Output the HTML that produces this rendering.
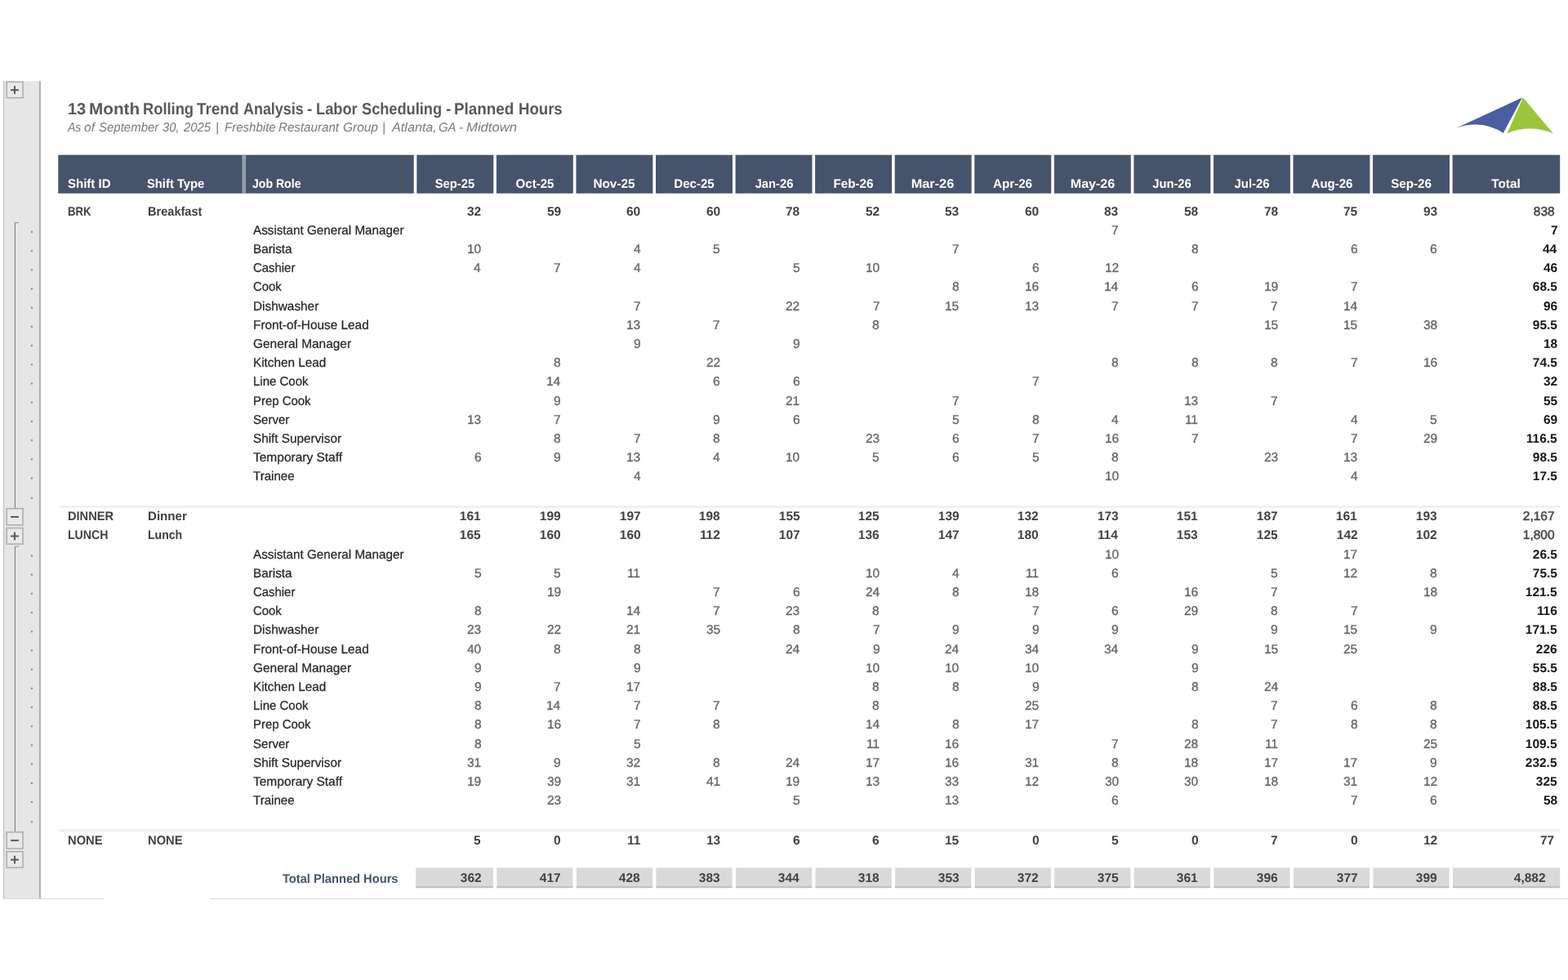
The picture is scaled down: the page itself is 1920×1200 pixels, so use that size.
<!DOCTYPE html>
<html lang="en">
<head>
<meta charset="utf-8">
<title>13 Month Rolling Trend Analysis - Labor Scheduling - Planned Hours</title>
<style>
*{box-sizing:border-box}
html,body{margin:0;padding:0;background:#fff}
body{width:1920px;height:1200px;position:relative;overflow:hidden;font-family:"Liberation Sans",Arial,sans-serif;font-size:15.4px;line-height:20px;color:#404040;text-rendering:geometricPrecision}
.sheet span,.sheet div{position:absolute}
.title,.sub{left:0;height:20px;width:760px;white-space:nowrap}
.sheet{position:absolute;left:0;top:0;width:1920px;height:1200px}
span{white-space:nowrap;display:block;height:20px}
.l{transform-origin:0 50%}
.r{transform-origin:100% 50%;text-align:right}
.c{transform-origin:50% 50%;text-align:center}
.b{font-weight:700}
.title{font-size:20px;font-weight:700;color:#595959}
.sub{font-size:15.6px;font-style:italic;color:#7a7a7a}
.hl{color:#fff;font-weight:700}
.g{color:#404040;font-weight:700}
.gt{color:#474747;-webkit-text-stroke:.5px #474747}
.role{color:#262626;-webkit-text-stroke:.25px #262626}
.n{color:#636363;-webkit-text-stroke:.3px #636363}
.dt{color:#141414;font-weight:700}
.tl{color:#44546a;font-weight:700}
.tn{color:#404040;font-weight:700}
.shapes{position:absolute;left:0;top:0}
</style>
</head>
<body>

<svg class="shapes" width="1920" height="1200" viewBox="0 0 1920 1200" aria-hidden="true">
<g id="outline-gutter">
<rect x="4.1" y="99.4" width="45.7" height="1001.5" fill="#e6e6e6"/>
<rect x="4.1" y="99.4" width="1" height="1001.5" fill="#b7b7b7"/>
<rect x="47.9" y="99.4" width="1.9" height="1001.5" fill="#adadad"/>
<rect x="4.1" y="1100" width="123.5" height="1" fill="#d9d9d9"/>
<rect x="257.5" y="1100" width="1662.5" height="1" fill="#d9d9d9"/>
<rect x="8.15" y="100.35" width="19.85" height="19.4" fill="#e9e9e9" stroke="#b0b0b0" stroke-width="1.6"/>
<rect x="13.07" y="109.2" width="9.8" height="2" fill="#595959"/>
<rect x="16.97" y="105.3" width="2" height="9.8" fill="#595959"/>
<rect x="8.15" y="622.75" width="19.85" height="20.1" fill="#e9e9e9" stroke="#b0b0b0" stroke-width="1.6"/>
<rect x="13.07" y="631.95" width="9.8" height="2" fill="#595959"/>
<rect x="8.15" y="646.55" width="19.85" height="19.6" fill="#e9e9e9" stroke="#b0b0b0" stroke-width="1.6"/>
<rect x="13.07" y="655.5" width="9.8" height="2" fill="#595959"/>
<rect x="16.97" y="651.6" width="2" height="9.8" fill="#595959"/>
<rect x="8.15" y="1018.95" width="19.85" height="20.1" fill="#e9e9e9" stroke="#b0b0b0" stroke-width="1.6"/>
<rect x="13.07" y="1028.15" width="9.8" height="2" fill="#595959"/>
<rect x="8.15" y="1042.75" width="19.85" height="19.6" fill="#e9e9e9" stroke="#b0b0b0" stroke-width="1.6"/>
<rect x="13.07" y="1051.7" width="9.8" height="2" fill="#595959"/>
<rect x="16.97" y="1047.8" width="2" height="9.8" fill="#595959"/>
<rect x="17.85" y="272.7" width="1.1" height="349.4" fill="#7f7f7f"/>
<rect x="17.85" y="272.2" width="5.45" height="1.1" fill="#949494"/>
<rect x="17.85" y="669.1" width="1.1" height="349.2" fill="#7f7f7f"/>
<rect x="17.85" y="668.6" width="5.45" height="1.1" fill="#949494"/>
<rect x="37.9" y="282.9" width="2.1" height="2.2" fill="#8e8e8e"/>
<rect x="37.9" y="306.1" width="2.1" height="2.2" fill="#8e8e8e"/>
<rect x="37.9" y="329.3" width="2.1" height="2.2" fill="#8e8e8e"/>
<rect x="37.9" y="352.5" width="2.1" height="2.2" fill="#8e8e8e"/>
<rect x="37.9" y="375.7" width="2.1" height="2.2" fill="#8e8e8e"/>
<rect x="37.9" y="398.9" width="2.1" height="2.2" fill="#8e8e8e"/>
<rect x="37.9" y="422.1" width="2.1" height="2.2" fill="#8e8e8e"/>
<rect x="37.9" y="445.3" width="2.1" height="2.2" fill="#8e8e8e"/>
<rect x="37.9" y="468.5" width="2.1" height="2.2" fill="#8e8e8e"/>
<rect x="37.9" y="491.7" width="2.1" height="2.2" fill="#8e8e8e"/>
<rect x="37.9" y="514.9" width="2.1" height="2.2" fill="#8e8e8e"/>
<rect x="37.9" y="538.1" width="2.1" height="2.2" fill="#8e8e8e"/>
<rect x="37.9" y="561.3" width="2.1" height="2.2" fill="#8e8e8e"/>
<rect x="37.9" y="584.5" width="2.1" height="2.2" fill="#8e8e8e"/>
<rect x="37.9" y="608.7" width="2.1" height="2.2" fill="#8e8e8e"/>
<rect x="37.9" y="679.4" width="2.1" height="2.2" fill="#8e8e8e"/>
<rect x="37.9" y="702.6" width="2.1" height="2.2" fill="#8e8e8e"/>
<rect x="37.9" y="725.8" width="2.1" height="2.2" fill="#8e8e8e"/>
<rect x="37.9" y="749" width="2.1" height="2.2" fill="#8e8e8e"/>
<rect x="37.9" y="772.2" width="2.1" height="2.2" fill="#8e8e8e"/>
<rect x="37.9" y="795.4" width="2.1" height="2.2" fill="#8e8e8e"/>
<rect x="37.9" y="818.6" width="2.1" height="2.2" fill="#8e8e8e"/>
<rect x="37.9" y="841.8" width="2.1" height="2.2" fill="#8e8e8e"/>
<rect x="37.9" y="865" width="2.1" height="2.2" fill="#8e8e8e"/>
<rect x="37.9" y="888.2" width="2.1" height="2.2" fill="#8e8e8e"/>
<rect x="37.9" y="911.4" width="2.1" height="2.2" fill="#8e8e8e"/>
<rect x="37.9" y="934.6" width="2.1" height="2.2" fill="#8e8e8e"/>
<rect x="37.9" y="957.8" width="2.1" height="2.2" fill="#8e8e8e"/>
<rect x="37.9" y="981" width="2.1" height="2.2" fill="#8e8e8e"/>
<rect x="37.9" y="1005.2" width="2.1" height="2.2" fill="#8e8e8e"/>
</g>
<g id="header-band">
<rect x="71.25" y="189.7" width="1838.95" height="47.1" fill="#46546b"/>
<rect x="296.6" y="189.7" width="4.3" height="47.1" fill="#a5acb9"/>
<rect x="298" y="189.7" width="1.5" height="47.1" fill="#8790a2"/>
<rect x="506.7" y="189.5" width="3.6" height="47.5" fill="#fff"/>
<rect x="604.26" y="189.5" width="3.6" height="47.5" fill="#fff"/>
<rect x="701.82" y="189.5" width="3.6" height="47.5" fill="#fff"/>
<rect x="799.38" y="189.5" width="3.6" height="47.5" fill="#fff"/>
<rect x="896.94" y="189.5" width="3.6" height="47.5" fill="#fff"/>
<rect x="994.5" y="189.5" width="3.6" height="47.5" fill="#fff"/>
<rect x="1092.06" y="189.5" width="3.6" height="47.5" fill="#fff"/>
<rect x="1189.62" y="189.5" width="3.6" height="47.5" fill="#fff"/>
<rect x="1287.18" y="189.5" width="3.6" height="47.5" fill="#fff"/>
<rect x="1384.74" y="189.5" width="3.6" height="47.5" fill="#fff"/>
<rect x="1482.3" y="189.5" width="3.6" height="47.5" fill="#fff"/>
<rect x="1579.86" y="189.5" width="3.6" height="47.5" fill="#fff"/>
<rect x="1677.42" y="189.5" width="3.6" height="47.5" fill="#fff"/>
<rect x="1774.98" y="189.5" width="3.6" height="47.5" fill="#fff"/>
</g>
<rect x="72.4" y="619" width="1837.8" height="3.2" fill="#f1f1f1"/>
<rect x="72.4" y="1015.3" width="1837.8" height="3.4" fill="#f1f1f1"/>
<g id="totals-band">
<rect x="509.2" y="1062.5" width="94.66" height="24.7" fill="#d9d9d9"/>
<rect x="509.2" y="1085.3" width="94.66" height="1.9" fill="#bcbcbc"/>
<rect x="608.26" y="1062.5" width="93.16" height="24.7" fill="#d9d9d9"/>
<rect x="608.26" y="1085.3" width="93.16" height="1.9" fill="#bcbcbc"/>
<rect x="705.82" y="1062.5" width="93.16" height="24.7" fill="#d9d9d9"/>
<rect x="705.82" y="1085.3" width="93.16" height="1.9" fill="#bcbcbc"/>
<rect x="803.38" y="1062.5" width="93.16" height="24.7" fill="#d9d9d9"/>
<rect x="803.38" y="1085.3" width="93.16" height="1.9" fill="#bcbcbc"/>
<rect x="900.94" y="1062.5" width="93.16" height="24.7" fill="#d9d9d9"/>
<rect x="900.94" y="1085.3" width="93.16" height="1.9" fill="#bcbcbc"/>
<rect x="998.5" y="1062.5" width="93.16" height="24.7" fill="#d9d9d9"/>
<rect x="998.5" y="1085.3" width="93.16" height="1.9" fill="#bcbcbc"/>
<rect x="1096.06" y="1062.5" width="93.16" height="24.7" fill="#d9d9d9"/>
<rect x="1096.06" y="1085.3" width="93.16" height="1.9" fill="#bcbcbc"/>
<rect x="1193.62" y="1062.5" width="93.16" height="24.7" fill="#d9d9d9"/>
<rect x="1193.62" y="1085.3" width="93.16" height="1.9" fill="#bcbcbc"/>
<rect x="1291.18" y="1062.5" width="93.16" height="24.7" fill="#d9d9d9"/>
<rect x="1291.18" y="1085.3" width="93.16" height="1.9" fill="#bcbcbc"/>
<rect x="1388.74" y="1062.5" width="93.16" height="24.7" fill="#d9d9d9"/>
<rect x="1388.74" y="1085.3" width="93.16" height="1.9" fill="#bcbcbc"/>
<rect x="1486.3" y="1062.5" width="93.16" height="24.7" fill="#d9d9d9"/>
<rect x="1486.3" y="1085.3" width="93.16" height="1.9" fill="#bcbcbc"/>
<rect x="1583.86" y="1062.5" width="93.16" height="24.7" fill="#d9d9d9"/>
<rect x="1583.86" y="1085.3" width="93.16" height="1.9" fill="#bcbcbc"/>
<rect x="1681.42" y="1062.5" width="93.16" height="24.7" fill="#d9d9d9"/>
<rect x="1681.42" y="1085.3" width="93.16" height="1.9" fill="#bcbcbc"/>
<rect x="1778.98" y="1062.5" width="131.22" height="24.7" fill="#d9d9d9"/>
<rect x="1778.98" y="1085.3" width="131.22" height="1.9" fill="#bcbcbc"/>
</g>
</svg>
<div class="sheet">
<div class="title" style="top:124px;"><span class="l" style="left:82.64px;transform:scaleX(0.9969)">13</span> <span class="l" style="left:108.92px;transform:scaleX(1.0350)">Month</span> <span class="l" style="left:175.47px;transform:scaleX(0.9157)">Rolling</span> <span class="l" style="left:241.49px;transform:scaleX(0.9450)">Trend</span> <span class="l" style="left:297.85px;transform:scaleX(0.8956)">Analysis</span> <span class="l" style="left:376.47px;transform:scaleX(0.9424)">-</span> <span class="l" style="left:387.08px;transform:scaleX(0.9125)">Labor</span> <span class="l" style="left:443.18px;transform:scaleX(0.9096)">Scheduling</span> <span class="l" style="left:546.07px;transform:scaleX(0.9424)">-</span> <span class="l" style="left:556.24px;transform:scaleX(0.9423)">Planned</span> <span class="l" style="left:634.56px;transform:scaleX(0.9294)">Hours</span></div>
<div class="sub" style="top:147px;"><span class="l" style="left:83.09px;transform:scaleX(0.9006)">As</span> <span class="l" style="left:103.19px;transform:scaleX(0.9965)">of</span> <span class="l" style="left:120.88px;transform:scaleX(0.9608)">September</span> <span class="l" style="left:199.35px;transform:scaleX(0.9535)">30,</span> <span class="l" style="left:225.09px;transform:scaleX(0.9560)">2025</span> <span class="l" style="left:264.05px;transform:scaleX(0.9777)">|</span> <span class="l" style="left:274.54px;transform:scaleX(0.9645)">Freshbite</span> <span class="l" style="left:341.23px;transform:scaleX(0.9703)">Restaurant</span> <span class="l" style="left:420.04px;transform:scaleX(0.9909)">Group</span> <span class="l" style="left:468.25px;transform:scaleX(0.9777)">|</span> <span class="l" style="left:479.5px;transform:scaleX(1.0375)">Atlanta,</span> <span class="l" style="left:536.76px;transform:scaleX(0.9555)">GA</span> <span class="l" style="left:561.84px;transform:scaleX(0.9777)">-</span> <span class="l" style="left:571.19px;transform:scaleX(1.0685)">Midtown</span></div>
<svg class="abs" style="position:absolute;left:1776px;top:112px" width="136" height="60" viewBox="1776 112 136 60" aria-label="logo">
<path d="M1782.8 156.9 L1864.0 119.5 L1840.7 162.9 Q1826 153.2 1808 152.6 Q1795 152.3 1782.8 156.9 Z" fill="#4a5d9f"/>
<path d="M1864.9 119.6 L1902 163.5 Q1873 151.6 1845.4 163.4 Z" fill="#9cc53b"/>
</svg>
<span class="hl l" style="top:216px;left:82.57px;transform:scaleX(0.9753);">Shift ID</span>
<span class="hl l" style="top:216px;left:180.27px;transform:scaleX(0.9596);">Shift Type</span>
<span class="hl l" style="top:216px;left:309.39px;transform:scaleX(0.9149);">Job Role</span>
<span class="hl c" style="top:216px;left:407.27px;width:300px;transform:scaleX(0.9611);">Sep-25</span>
<span class="hl c" style="top:216px;left:504.74px;width:300px;transform:scaleX(0.9793);">Oct-25</span>
<span class="hl c" style="top:216px;left:602.1px;width:300px;transform:scaleX(0.9961);">Nov-25</span>
<span class="hl c" style="top:216px;left:699.67px;width:300px;transform:scaleX(0.9786);">Dec-25</span>
<span class="hl c" style="top:216px;left:797.67px;width:300px;transform:scaleX(0.9582);">Jan-26</span>
<span class="hl c" style="top:216px;left:894.85px;width:300px;transform:scaleX(0.9886);">Feb-26</span>
<span class="hl c" style="top:216px;left:992.39px;width:300px;transform:scaleX(1.0571);">Mar-26</span>
<span class="hl c" style="top:216px;left:1090.29px;width:300px;transform:scaleX(0.9866);">Apr-26</span>
<span class="hl c" style="top:216px;left:1187.51px;width:300px;transform:scaleX(1.0429);">May-26</span>
<span class="hl c" style="top:216px;left:1285.47px;width:300px;transform:scaleX(0.9560);">Jun-26</span>
<span class="hl c" style="top:216px;left:1383.04px;width:300px;transform:scaleX(0.9607);">Jul-26</span>
<span class="hl c" style="top:216px;left:1480.52px;width:300px;transform:scaleX(0.9756);">Aug-26</span>
<span class="hl c" style="top:216px;left:1578.06px;width:300px;transform:scaleX(0.9838);">Sep-26</span>
<span class="hl c" style="top:216px;left:1693.95px;width:300px;transform:scaleX(0.9977);">Total</span>
<span class="g l" style="top:250px;left:82.92px;transform:scaleX(0.8543);">BRK</span>
<span class="g l" style="top:250px;left:180.62px;transform:scaleX(0.9467);">Breakfast</span>
<span class="g r" style="top:250px;right:1330.82px;transform:scaleX(1.0050);">32</span>
<span class="g r" style="top:250px;right:1233.31px;transform:scaleX(1.0050);">59</span>
<span class="g r" style="top:250px;right:1135.69px;transform:scaleX(1.0050);">60</span>
<span class="g r" style="top:250px;right:1038.13px;transform:scaleX(1.0050);">60</span>
<span class="g r" style="top:250px;right:940.72px;transform:scaleX(1.0050);">78</span>
<span class="g r" style="top:250px;right:843.02px;transform:scaleX(1.0050);">52</span>
<span class="g r" style="top:250px;right:745.52px;transform:scaleX(1.0050);">53</span>
<span class="g r" style="top:250px;right:647.89px;transform:scaleX(1.0050);">60</span>
<span class="g r" style="top:250px;right:550.4px;transform:scaleX(1.0050);">83</span>
<span class="g r" style="top:250px;right:452.92px;transform:scaleX(1.0050);">58</span>
<span class="g r" style="top:250px;right:355.36px;transform:scaleX(1.0050);">78</span>
<span class="g r" style="top:250px;right:257.85px;transform:scaleX(1.0050);">75</span>
<span class="g r" style="top:250px;right:160.16px;transform:scaleX(1.0050);">93</span>
<span class="gt r" style="top:250px;right:16.43px;transform:scaleX(1.0050);">838</span>
<span class="role l" style="top:273px;left:310.27px;transform:scaleX(0.9892);">Assistant General Manager</span>
<span class="n r" style="top:273px;right:550.18px;transform:scaleX(1.0050);">7</span>
<span class="dt r" style="top:273px;right:12.92px;transform:scaleX(1.0050);">7</span>
<span class="role l" style="top:296px;left:309.75px;transform:scaleX(0.9922);">Barista</span>
<span class="n r" style="top:296px;right:1330.84px;transform:scaleX(1.0050);">10</span>
<span class="n r" style="top:296px;right:1135.87px;transform:scaleX(1.0050);">4</span>
<span class="n r" style="top:296px;right:1038.11px;transform:scaleX(1.0050);">5</span>
<span class="n r" style="top:296px;right:745.3px;transform:scaleX(1.0050);">7</span>
<span class="n r" style="top:296px;right:452.73px;transform:scaleX(1.0050);">8</span>
<span class="n r" style="top:296px;right:257.6px;transform:scaleX(1.0050);">6</span>
<span class="n r" style="top:296px;right:160.04px;transform:scaleX(1.0050);">6</span>
<span class="dt r" style="top:296px;right:13.52px;transform:scaleX(1.0050);">44</span>
<span class="role l" style="top:319px;left:309.84px;transform:scaleX(0.9687);">Cashier</span>
<span class="n r" style="top:319px;right:1330.99px;transform:scaleX(1.0050);">4</span>
<span class="n r" style="top:319px;right:1233.1px;transform:scaleX(1.0050);">7</span>
<span class="n r" style="top:319px;right:1135.87px;transform:scaleX(1.0050);">4</span>
<span class="n r" style="top:319px;right:940.55px;transform:scaleX(1.0050);">5</span>
<span class="n r" style="top:319px;right:843.04px;transform:scaleX(1.0050);">10</span>
<span class="n r" style="top:319px;right:647.84px;transform:scaleX(1.0050);">6</span>
<span class="n r" style="top:319px;right:550.18px;transform:scaleX(1.0050);">12</span>
<span class="dt r" style="top:319px;right:13.04px;transform:scaleX(1.0050);">46</span>
<span class="role l" style="top:342px;left:309.84px;transform:scaleX(0.9661);">Cook</span>
<span class="n r" style="top:342px;right:745.41px;transform:scaleX(1.0050);">8</span>
<span class="n r" style="top:342px;right:647.84px;transform:scaleX(1.0050);">16</span>
<span class="n r" style="top:342px;right:550.51px;transform:scaleX(1.0050);">14</span>
<span class="n r" style="top:342px;right:452.72px;transform:scaleX(1.0050);">6</span>
<span class="n r" style="top:342px;right:355.11px;transform:scaleX(1.0050);">19</span>
<span class="n r" style="top:342px;right:257.5px;transform:scaleX(1.0050);">7</span>
<span class="dt r" style="top:342px;right:13.17px;transform:scaleX(1.0050);">68.5</span>
<span class="role l" style="top:366px;left:309.74px;transform:scaleX(0.9983);">Dishwasher</span>
<span class="n r" style="top:366px;right:1135.54px;transform:scaleX(1.0050);">7</span>
<span class="n r" style="top:366px;right:940.42px;transform:scaleX(1.0050);">22</span>
<span class="n r" style="top:366px;right:842.86px;transform:scaleX(1.0050);">7</span>
<span class="n r" style="top:366px;right:745.43px;transform:scaleX(1.0050);">15</span>
<span class="n r" style="top:366px;right:647.84px;transform:scaleX(1.0050);">13</span>
<span class="n r" style="top:366px;right:550.18px;transform:scaleX(1.0050);">7</span>
<span class="n r" style="top:366px;right:452.62px;transform:scaleX(1.0050);">7</span>
<span class="n r" style="top:366px;right:355.06px;transform:scaleX(1.0050);">7</span>
<span class="n r" style="top:366px;right:257.83px;transform:scaleX(1.0050);">14</span>
<span class="dt r" style="top:366px;right:13.04px;transform:scaleX(1.0050);">96</span>
<span class="role l" style="top:389px;left:309.74px;transform:scaleX(0.9976);">Front-of-House Lead</span>
<span class="n r" style="top:389px;right:1135.64px;transform:scaleX(1.0050);">13</span>
<span class="n r" style="top:389px;right:1037.98px;transform:scaleX(1.0050);">7</span>
<span class="n r" style="top:389px;right:842.97px;transform:scaleX(1.0050);">8</span>
<span class="n r" style="top:389px;right:355.19px;transform:scaleX(1.0050);">15</span>
<span class="n r" style="top:389px;right:257.63px;transform:scaleX(1.0050);">15</span>
<span class="n r" style="top:389px;right:160.05px;transform:scaleX(1.0050);">38</span>
<span class="dt r" style="top:389px;right:13.17px;transform:scaleX(1.0050);">95.5</span>
<span class="role l" style="top:412px;left:309.82px;transform:scaleX(1.0024);">General Manager</span>
<span class="n r" style="top:412px;right:1135.59px;transform:scaleX(1.0050);">9</span>
<span class="n r" style="top:412px;right:940.47px;transform:scaleX(1.0050);">9</span>
<span class="dt r" style="top:412px;right:13.12px;transform:scaleX(1.0050);">18</span>
<span class="role l" style="top:435px;left:309.74px;transform:scaleX(0.9938);">Kitchen Lead</span>
<span class="n r" style="top:435px;right:1233.21px;transform:scaleX(1.0050);">8</span>
<span class="n r" style="top:435px;right:1037.98px;transform:scaleX(1.0050);">22</span>
<span class="n r" style="top:435px;right:550.29px;transform:scaleX(1.0050);">8</span>
<span class="n r" style="top:435px;right:452.73px;transform:scaleX(1.0050);">8</span>
<span class="n r" style="top:435px;right:355.17px;transform:scaleX(1.0050);">8</span>
<span class="n r" style="top:435px;right:257.5px;transform:scaleX(1.0050);">7</span>
<span class="n r" style="top:435px;right:160.04px;transform:scaleX(1.0050);">16</span>
<span class="dt r" style="top:435px;right:13.17px;transform:scaleX(1.0050);">74.5</span>
<span class="role l" style="top:458px;left:309.77px;transform:scaleX(0.9735);">Line Cook</span>
<span class="n r" style="top:458px;right:1233.43px;transform:scaleX(1.0050);">14</span>
<span class="n r" style="top:458px;right:1038.08px;transform:scaleX(1.0050);">6</span>
<span class="n r" style="top:458px;right:940.52px;transform:scaleX(1.0050);">6</span>
<span class="n r" style="top:458px;right:647.74px;transform:scaleX(1.0050);">7</span>
<span class="dt r" style="top:458px;right:12.98px;transform:scaleX(1.0050);">32</span>
<span class="role l" style="top:482px;left:309.77px;transform:scaleX(0.9704);">Prep Cook</span>
<span class="n r" style="top:482px;right:1233.15px;transform:scaleX(1.0050);">9</span>
<span class="n r" style="top:482px;right:940.44px;transform:scaleX(1.0050);">21</span>
<span class="n r" style="top:482px;right:745.3px;transform:scaleX(1.0050);">7</span>
<span class="n r" style="top:482px;right:452.72px;transform:scaleX(1.0050);">13</span>
<span class="n r" style="top:482px;right:355.06px;transform:scaleX(1.0050);">7</span>
<span class="dt r" style="top:482px;right:13.17px;transform:scaleX(1.0050);">55</span>
<span class="role l" style="top:505px;left:309.92px;transform:scaleX(0.9774);">Server</span>
<span class="n r" style="top:505px;right:1330.76px;transform:scaleX(1.0050);">13</span>
<span class="n r" style="top:505px;right:1233.1px;transform:scaleX(1.0050);">7</span>
<span class="n r" style="top:505px;right:1038.03px;transform:scaleX(1.0050);">9</span>
<span class="n r" style="top:505px;right:940.52px;transform:scaleX(1.0050);">6</span>
<span class="n r" style="top:505px;right:745.43px;transform:scaleX(1.0050);">5</span>
<span class="n r" style="top:505px;right:647.85px;transform:scaleX(1.0050);">8</span>
<span class="n r" style="top:505px;right:550.51px;transform:scaleX(1.0050);">4</span>
<span class="n r" style="top:505px;right:452.64px;transform:scaleX(1.0050);">11</span>
<span class="n r" style="top:505px;right:257.83px;transform:scaleX(1.0050);">4</span>
<span class="n r" style="top:505px;right:160.07px;transform:scaleX(1.0050);">5</span>
<span class="dt r" style="top:505px;right:13.03px;transform:scaleX(1.0050);">69</span>
<span class="role l" style="top:528px;left:309.9px;transform:scaleX(0.9940);">Shift Supervisor</span>
<span class="n r" style="top:528px;right:1233.21px;transform:scaleX(1.0050);">8</span>
<span class="n r" style="top:528px;right:1135.54px;transform:scaleX(1.0050);">7</span>
<span class="n r" style="top:528px;right:1038.09px;transform:scaleX(1.0050);">8</span>
<span class="n r" style="top:528px;right:842.96px;transform:scaleX(1.0050);">23</span>
<span class="n r" style="top:528px;right:745.4px;transform:scaleX(1.0050);">6</span>
<span class="n r" style="top:528px;right:647.74px;transform:scaleX(1.0050);">7</span>
<span class="n r" style="top:528px;right:550.28px;transform:scaleX(1.0050);">16</span>
<span class="n r" style="top:528px;right:452.62px;transform:scaleX(1.0050);">7</span>
<span class="n r" style="top:528px;right:257.5px;transform:scaleX(1.0050);">7</span>
<span class="n r" style="top:528px;right:159.99px;transform:scaleX(1.0050);">29</span>
<span class="dt r" style="top:528px;right:13.17px;transform:scaleX(1.0050);">116.5</span>
<span class="role l" style="top:551px;left:310.25px;transform:scaleX(1.0065);">Temporary Staff</span>
<span class="n r" style="top:551px;right:1330.76px;transform:scaleX(1.0050);">6</span>
<span class="n r" style="top:551px;right:1233.15px;transform:scaleX(1.0050);">9</span>
<span class="n r" style="top:551px;right:1135.64px;transform:scaleX(1.0050);">13</span>
<span class="n r" style="top:551px;right:1038.31px;transform:scaleX(1.0050);">4</span>
<span class="n r" style="top:551px;right:940.6px;transform:scaleX(1.0050);">10</span>
<span class="n r" style="top:551px;right:842.99px;transform:scaleX(1.0050);">5</span>
<span class="n r" style="top:551px;right:745.4px;transform:scaleX(1.0050);">6</span>
<span class="n r" style="top:551px;right:647.87px;transform:scaleX(1.0050);">5</span>
<span class="n r" style="top:551px;right:550.29px;transform:scaleX(1.0050);">8</span>
<span class="n r" style="top:551px;right:355.16px;transform:scaleX(1.0050);">23</span>
<span class="n r" style="top:551px;right:257.6px;transform:scaleX(1.0050);">13</span>
<span class="dt r" style="top:551px;right:13.17px;transform:scaleX(1.0050);">98.5</span>
<span class="role l" style="top:574px;left:310.26px;transform:scaleX(0.9800);">Trainee</span>
<span class="n r" style="top:574px;right:1135.87px;transform:scaleX(1.0050);">4</span>
<span class="n r" style="top:574px;right:550.36px;transform:scaleX(1.0050);">10</span>
<span class="n r" style="top:574px;right:257.83px;transform:scaleX(1.0050);">4</span>
<span class="dt r" style="top:574px;right:13.17px;transform:scaleX(1.0050);">17.5</span>
<span class="g l" style="top:623px;left:82.82px;transform:scaleX(0.9490);">DINNER</span>
<span class="g l" style="top:623px;left:180.59px;transform:scaleX(0.9809);">Dinner</span>
<span class="g r" style="top:623px;right:1331.01px;transform:scaleX(1.0050);">161</span>
<span class="g r" style="top:623px;right:1233.31px;transform:scaleX(1.0050);">199</span>
<span class="g r" style="top:623px;right:1135.64px;transform:scaleX(1.0050);">197</span>
<span class="g r" style="top:623px;right:1038.28px;transform:scaleX(1.0050);">198</span>
<span class="g r" style="top:623px;right:940.77px;transform:scaleX(1.0050);">155</span>
<span class="g r" style="top:623px;right:843.21px;transform:scaleX(1.0050);">125</span>
<span class="g r" style="top:623px;right:745.51px;transform:scaleX(1.0050);">139</span>
<span class="g r" style="top:623px;right:647.9px;transform:scaleX(1.0050);">132</span>
<span class="g r" style="top:623px;right:550.4px;transform:scaleX(1.0050);">173</span>
<span class="g r" style="top:623px;right:452.97px;transform:scaleX(1.0050);">151</span>
<span class="g r" style="top:623px;right:355.16px;transform:scaleX(1.0050);">187</span>
<span class="g r" style="top:623px;right:257.85px;transform:scaleX(1.0050);">161</span>
<span class="g r" style="top:623px;right:160.16px;transform:scaleX(1.0050);">193</span>
<span class="gt r" style="top:623px;right:16.32px;transform:scaleX(1.0050);">2,167</span>
<span class="g l" style="top:646px;left:82.86px;transform:scaleX(0.9166);">LUNCH</span>
<span class="g l" style="top:646px;left:180.66px;transform:scaleX(0.9139);">Lunch</span>
<span class="g r" style="top:646px;right:1331.01px;transform:scaleX(1.0050);">165</span>
<span class="g r" style="top:646px;right:1233.25px;transform:scaleX(1.0050);">160</span>
<span class="g r" style="top:646px;right:1135.69px;transform:scaleX(1.0050);">160</span>
<span class="g r" style="top:646px;right:1038.14px;transform:scaleX(1.0050);">112</span>
<span class="g r" style="top:646px;right:940.52px;transform:scaleX(1.0050);">107</span>
<span class="g r" style="top:646px;right:843.08px;transform:scaleX(1.0050);">136</span>
<span class="g r" style="top:646px;right:745.4px;transform:scaleX(1.0050);">147</span>
<span class="g r" style="top:646px;right:647.89px;transform:scaleX(1.0050);">180</span>
<span class="g r" style="top:646px;right:550.88px;transform:scaleX(1.0050);">114</span>
<span class="g r" style="top:646px;right:452.84px;transform:scaleX(1.0050);">153</span>
<span class="g r" style="top:646px;right:355.41px;transform:scaleX(1.0050);">125</span>
<span class="g r" style="top:646px;right:257.66px;transform:scaleX(1.0050);">142</span>
<span class="g r" style="top:646px;right:160.1px;transform:scaleX(1.0050);">102</span>
<span class="gt r" style="top:646px;right:16.5px;transform:scaleX(1.0050);">1,800</span>
<span class="role l" style="top:670px;left:310.27px;transform:scaleX(0.9892);">Assistant General Manager</span>
<span class="n r" style="top:670px;right:550.36px;transform:scaleX(1.0050);">10</span>
<span class="n r" style="top:670px;right:257.5px;transform:scaleX(1.0050);">17</span>
<span class="dt r" style="top:670px;right:13.17px;transform:scaleX(1.0050);">26.5</span>
<span class="role l" style="top:693px;left:309.75px;transform:scaleX(0.9922);">Barista</span>
<span class="n r" style="top:693px;right:1330.79px;transform:scaleX(1.0050);">5</span>
<span class="n r" style="top:693px;right:1233.23px;transform:scaleX(1.0050);">5</span>
<span class="n r" style="top:693px;right:1135.56px;transform:scaleX(1.0050);">11</span>
<span class="n r" style="top:693px;right:843.04px;transform:scaleX(1.0050);">10</span>
<span class="n r" style="top:693px;right:745.63px;transform:scaleX(1.0050);">4</span>
<span class="n r" style="top:693px;right:647.76px;transform:scaleX(1.0050);">11</span>
<span class="n r" style="top:693px;right:550.28px;transform:scaleX(1.0050);">6</span>
<span class="n r" style="top:693px;right:355.19px;transform:scaleX(1.0050);">5</span>
<span class="n r" style="top:693px;right:257.5px;transform:scaleX(1.0050);">12</span>
<span class="n r" style="top:693px;right:160.05px;transform:scaleX(1.0050);">8</span>
<span class="dt r" style="top:693px;right:13.17px;transform:scaleX(1.0050);">75.5</span>
<span class="role l" style="top:716px;left:309.84px;transform:scaleX(0.9687);">Cashier</span>
<span class="n r" style="top:716px;right:1233.15px;transform:scaleX(1.0050);">19</span>
<span class="n r" style="top:716px;right:1037.98px;transform:scaleX(1.0050);">7</span>
<span class="n r" style="top:716px;right:940.52px;transform:scaleX(1.0050);">6</span>
<span class="n r" style="top:716px;right:843.19px;transform:scaleX(1.0050);">24</span>
<span class="n r" style="top:716px;right:745.41px;transform:scaleX(1.0050);">8</span>
<span class="n r" style="top:716px;right:647.85px;transform:scaleX(1.0050);">18</span>
<span class="n r" style="top:716px;right:452.72px;transform:scaleX(1.0050);">16</span>
<span class="n r" style="top:716px;right:355.06px;transform:scaleX(1.0050);">7</span>
<span class="n r" style="top:716px;right:160.05px;transform:scaleX(1.0050);">18</span>
<span class="dt r" style="top:716px;right:13.17px;transform:scaleX(1.0050);">121.5</span>
<span class="role l" style="top:739px;left:309.84px;transform:scaleX(0.9661);">Cook</span>
<span class="n r" style="top:739px;right:1330.77px;transform:scaleX(1.0050);">8</span>
<span class="n r" style="top:739px;right:1135.87px;transform:scaleX(1.0050);">14</span>
<span class="n r" style="top:739px;right:1037.98px;transform:scaleX(1.0050);">7</span>
<span class="n r" style="top:739px;right:940.52px;transform:scaleX(1.0050);">23</span>
<span class="n r" style="top:739px;right:842.97px;transform:scaleX(1.0050);">8</span>
<span class="n r" style="top:739px;right:647.74px;transform:scaleX(1.0050);">7</span>
<span class="n r" style="top:739px;right:550.28px;transform:scaleX(1.0050);">6</span>
<span class="n r" style="top:739px;right:452.67px;transform:scaleX(1.0050);">29</span>
<span class="n r" style="top:739px;right:355.17px;transform:scaleX(1.0050);">8</span>
<span class="n r" style="top:739px;right:257.5px;transform:scaleX(1.0050);">7</span>
<span class="dt r" style="top:739px;right:13.04px;transform:scaleX(1.0050);">116</span>
<span class="role l" style="top:762px;left:309.74px;transform:scaleX(0.9983);">Dishwasher</span>
<span class="n r" style="top:762px;right:1330.76px;transform:scaleX(1.0050);">23</span>
<span class="n r" style="top:762px;right:1233.1px;transform:scaleX(1.0050);">22</span>
<span class="n r" style="top:762px;right:1135.56px;transform:scaleX(1.0050);">21</span>
<span class="n r" style="top:762px;right:1038.11px;transform:scaleX(1.0050);">35</span>
<span class="n r" style="top:762px;right:940.53px;transform:scaleX(1.0050);">8</span>
<span class="n r" style="top:762px;right:842.86px;transform:scaleX(1.0050);">7</span>
<span class="n r" style="top:762px;right:745.35px;transform:scaleX(1.0050);">9</span>
<span class="n r" style="top:762px;right:647.79px;transform:scaleX(1.0050);">9</span>
<span class="n r" style="top:762px;right:550.23px;transform:scaleX(1.0050);">9</span>
<span class="n r" style="top:762px;right:355.11px;transform:scaleX(1.0050);">9</span>
<span class="n r" style="top:762px;right:257.63px;transform:scaleX(1.0050);">15</span>
<span class="n r" style="top:762px;right:159.99px;transform:scaleX(1.0050);">9</span>
<span class="dt r" style="top:762px;right:13.17px;transform:scaleX(1.0050);">171.5</span>
<span class="role l" style="top:786px;left:309.74px;transform:scaleX(0.9976);">Front-of-House Lead</span>
<span class="n r" style="top:786px;right:1330.84px;transform:scaleX(1.0050);">40</span>
<span class="n r" style="top:786px;right:1233.21px;transform:scaleX(1.0050);">8</span>
<span class="n r" style="top:786px;right:1135.65px;transform:scaleX(1.0050);">8</span>
<span class="n r" style="top:786px;right:940.75px;transform:scaleX(1.0050);">24</span>
<span class="n r" style="top:786px;right:842.91px;transform:scaleX(1.0050);">9</span>
<span class="n r" style="top:786px;right:745.63px;transform:scaleX(1.0050);">24</span>
<span class="n r" style="top:786px;right:648.07px;transform:scaleX(1.0050);">34</span>
<span class="n r" style="top:786px;right:550.51px;transform:scaleX(1.0050);">34</span>
<span class="n r" style="top:786px;right:452.67px;transform:scaleX(1.0050);">9</span>
<span class="n r" style="top:786px;right:355.19px;transform:scaleX(1.0050);">15</span>
<span class="n r" style="top:786px;right:257.63px;transform:scaleX(1.0050);">25</span>
<span class="dt r" style="top:786px;right:13.04px;transform:scaleX(1.0050);">226</span>
<span class="role l" style="top:809px;left:309.82px;transform:scaleX(1.0024);">General Manager</span>
<span class="n r" style="top:809px;right:1330.71px;transform:scaleX(1.0050);">9</span>
<span class="n r" style="top:809px;right:1135.59px;transform:scaleX(1.0050);">9</span>
<span class="n r" style="top:809px;right:843.04px;transform:scaleX(1.0050);">10</span>
<span class="n r" style="top:809px;right:745.48px;transform:scaleX(1.0050);">10</span>
<span class="n r" style="top:809px;right:647.92px;transform:scaleX(1.0050);">10</span>
<span class="n r" style="top:809px;right:452.67px;transform:scaleX(1.0050);">9</span>
<span class="dt r" style="top:809px;right:13.17px;transform:scaleX(1.0050);">55.5</span>
<span class="role l" style="top:832px;left:309.74px;transform:scaleX(0.9938);">Kitchen Lead</span>
<span class="n r" style="top:832px;right:1330.71px;transform:scaleX(1.0050);">9</span>
<span class="n r" style="top:832px;right:1233.1px;transform:scaleX(1.0050);">7</span>
<span class="n r" style="top:832px;right:1135.54px;transform:scaleX(1.0050);">17</span>
<span class="n r" style="top:832px;right:842.97px;transform:scaleX(1.0050);">8</span>
<span class="n r" style="top:832px;right:745.41px;transform:scaleX(1.0050);">8</span>
<span class="n r" style="top:832px;right:647.79px;transform:scaleX(1.0050);">9</span>
<span class="n r" style="top:832px;right:452.73px;transform:scaleX(1.0050);">8</span>
<span class="n r" style="top:832px;right:355.39px;transform:scaleX(1.0050);">24</span>
<span class="dt r" style="top:832px;right:13.17px;transform:scaleX(1.0050);">88.5</span>
<span class="role l" style="top:855px;left:309.77px;transform:scaleX(0.9735);">Line Cook</span>
<span class="n r" style="top:855px;right:1330.77px;transform:scaleX(1.0050);">8</span>
<span class="n r" style="top:855px;right:1233.43px;transform:scaleX(1.0050);">14</span>
<span class="n r" style="top:855px;right:1135.54px;transform:scaleX(1.0050);">7</span>
<span class="n r" style="top:855px;right:1037.98px;transform:scaleX(1.0050);">7</span>
<span class="n r" style="top:855px;right:842.97px;transform:scaleX(1.0050);">8</span>
<span class="n r" style="top:855px;right:647.87px;transform:scaleX(1.0050);">25</span>
<span class="n r" style="top:855px;right:355.06px;transform:scaleX(1.0050);">7</span>
<span class="n r" style="top:855px;right:257.6px;transform:scaleX(1.0050);">6</span>
<span class="n r" style="top:855px;right:160.05px;transform:scaleX(1.0050);">8</span>
<span class="dt r" style="top:855px;right:13.17px;transform:scaleX(1.0050);">88.5</span>
<span class="role l" style="top:878px;left:309.77px;transform:scaleX(0.9704);">Prep Cook</span>
<span class="n r" style="top:878px;right:1330.77px;transform:scaleX(1.0050);">8</span>
<span class="n r" style="top:878px;right:1233.2px;transform:scaleX(1.0050);">16</span>
<span class="n r" style="top:878px;right:1135.54px;transform:scaleX(1.0050);">7</span>
<span class="n r" style="top:878px;right:1038.09px;transform:scaleX(1.0050);">8</span>
<span class="n r" style="top:878px;right:843.19px;transform:scaleX(1.0050);">14</span>
<span class="n r" style="top:878px;right:745.41px;transform:scaleX(1.0050);">8</span>
<span class="n r" style="top:878px;right:647.74px;transform:scaleX(1.0050);">17</span>
<span class="n r" style="top:878px;right:452.73px;transform:scaleX(1.0050);">8</span>
<span class="n r" style="top:878px;right:355.06px;transform:scaleX(1.0050);">7</span>
<span class="n r" style="top:878px;right:257.61px;transform:scaleX(1.0050);">8</span>
<span class="n r" style="top:878px;right:160.05px;transform:scaleX(1.0050);">8</span>
<span class="dt r" style="top:878px;right:13.17px;transform:scaleX(1.0050);">105.5</span>
<span class="role l" style="top:902px;left:309.92px;transform:scaleX(0.9774);">Server</span>
<span class="n r" style="top:902px;right:1330.77px;transform:scaleX(1.0050);">8</span>
<span class="n r" style="top:902px;right:1135.67px;transform:scaleX(1.0050);">5</span>
<span class="n r" style="top:902px;right:842.88px;transform:scaleX(1.0050);">11</span>
<span class="n r" style="top:902px;right:745.4px;transform:scaleX(1.0050);">16</span>
<span class="n r" style="top:902px;right:550.18px;transform:scaleX(1.0050);">7</span>
<span class="n r" style="top:902px;right:452.73px;transform:scaleX(1.0050);">28</span>
<span class="n r" style="top:902px;right:355.08px;transform:scaleX(1.0050);">11</span>
<span class="n r" style="top:902px;right:160.07px;transform:scaleX(1.0050);">25</span>
<span class="dt r" style="top:902px;right:13.17px;transform:scaleX(1.0050);">109.5</span>
<span class="role l" style="top:925px;left:309.9px;transform:scaleX(0.9940);">Shift Supervisor</span>
<span class="n r" style="top:925px;right:1330.68px;transform:scaleX(1.0050);">31</span>
<span class="n r" style="top:925px;right:1233.15px;transform:scaleX(1.0050);">9</span>
<span class="n r" style="top:925px;right:1135.54px;transform:scaleX(1.0050);">32</span>
<span class="n r" style="top:925px;right:1038.09px;transform:scaleX(1.0050);">8</span>
<span class="n r" style="top:925px;right:940.75px;transform:scaleX(1.0050);">24</span>
<span class="n r" style="top:925px;right:842.86px;transform:scaleX(1.0050);">17</span>
<span class="n r" style="top:925px;right:745.4px;transform:scaleX(1.0050);">16</span>
<span class="n r" style="top:925px;right:647.76px;transform:scaleX(1.0050);">31</span>
<span class="n r" style="top:925px;right:550.29px;transform:scaleX(1.0050);">8</span>
<span class="n r" style="top:925px;right:452.73px;transform:scaleX(1.0050);">18</span>
<span class="n r" style="top:925px;right:355.06px;transform:scaleX(1.0050);">17</span>
<span class="n r" style="top:925px;right:257.5px;transform:scaleX(1.0050);">17</span>
<span class="n r" style="top:925px;right:159.99px;transform:scaleX(1.0050);">9</span>
<span class="dt r" style="top:925px;right:13.17px;transform:scaleX(1.0050);">232.5</span>
<span class="role l" style="top:948px;left:310.25px;transform:scaleX(1.0065);">Temporary Staff</span>
<span class="n r" style="top:948px;right:1330.71px;transform:scaleX(1.0050);">19</span>
<span class="n r" style="top:948px;right:1233.15px;transform:scaleX(1.0050);">39</span>
<span class="n r" style="top:948px;right:1135.56px;transform:scaleX(1.0050);">31</span>
<span class="n r" style="top:948px;right:1038px;transform:scaleX(1.0050);">41</span>
<span class="n r" style="top:948px;right:940.47px;transform:scaleX(1.0050);">19</span>
<span class="n r" style="top:948px;right:842.96px;transform:scaleX(1.0050);">13</span>
<span class="n r" style="top:948px;right:745.4px;transform:scaleX(1.0050);">33</span>
<span class="n r" style="top:948px;right:647.74px;transform:scaleX(1.0050);">12</span>
<span class="n r" style="top:948px;right:550.36px;transform:scaleX(1.0050);">30</span>
<span class="n r" style="top:948px;right:452.8px;transform:scaleX(1.0050);">30</span>
<span class="n r" style="top:948px;right:355.17px;transform:scaleX(1.0050);">18</span>
<span class="n r" style="top:948px;right:257.52px;transform:scaleX(1.0050);">31</span>
<span class="n r" style="top:948px;right:159.94px;transform:scaleX(1.0050);">12</span>
<span class="dt r" style="top:948px;right:13.17px;transform:scaleX(1.0050);">325</span>
<span class="role l" style="top:971px;left:310.26px;transform:scaleX(0.9800);">Trainee</span>
<span class="n r" style="top:971px;right:1233.2px;transform:scaleX(1.0050);">23</span>
<span class="n r" style="top:971px;right:940.55px;transform:scaleX(1.0050);">5</span>
<span class="n r" style="top:971px;right:745.4px;transform:scaleX(1.0050);">13</span>
<span class="n r" style="top:971px;right:550.28px;transform:scaleX(1.0050);">6</span>
<span class="n r" style="top:971px;right:257.5px;transform:scaleX(1.0050);">7</span>
<span class="n r" style="top:971px;right:160.04px;transform:scaleX(1.0050);">6</span>
<span class="dt r" style="top:971px;right:13.12px;transform:scaleX(1.0050);">58</span>
<span class="g l" style="top:1020px;left:82.81px;transform:scaleX(0.9566);">NONE</span>
<span class="g l" style="top:1020px;left:180.61px;transform:scaleX(0.9566);">NONE</span>
<span class="g r" style="top:1020px;right:1331.01px;transform:scaleX(1.0050);">5</span>
<span class="g r" style="top:1020px;right:1233.25px;transform:scaleX(1.0050);">0</span>
<span class="g r" style="top:1020px;right:1135.89px;transform:scaleX(1.0050);">11</span>
<span class="g r" style="top:1020px;right:1038.2px;transform:scaleX(1.0050);">13</span>
<span class="g r" style="top:1020px;right:940.64px;transform:scaleX(1.0050);">6</span>
<span class="g r" style="top:1020px;right:843.08px;transform:scaleX(1.0050);">6</span>
<span class="g r" style="top:1020px;right:745.65px;transform:scaleX(1.0050);">15</span>
<span class="g r" style="top:1020px;right:647.89px;transform:scaleX(1.0050);">0</span>
<span class="g r" style="top:1020px;right:550.53px;transform:scaleX(1.0050);">5</span>
<span class="g r" style="top:1020px;right:452.77px;transform:scaleX(1.0050);">0</span>
<span class="g r" style="top:1020px;right:355.16px;transform:scaleX(1.0050);">7</span>
<span class="g r" style="top:1020px;right:257.65px;transform:scaleX(1.0050);">0</span>
<span class="g r" style="top:1020px;right:160.1px;transform:scaleX(1.0050);">12</span>
<span class="g r" style="top:1020px;right:16.42px;transform:scaleX(1.0050);">77</span>
<span class="tl r" style="top:1067px;right:1432.2px;transform:scaleX(0.9534);">Total Planned Hours</span>
<span class="tn r" style="top:1066px;right:1330.82px;transform:scaleX(1.0050);">362</span>
<span class="tn r" style="top:1066px;right:1233.2px;transform:scaleX(1.0050);">417</span>
<span class="tn r" style="top:1066px;right:1135.84px;transform:scaleX(1.0050);">428</span>
<span class="tn r" style="top:1066px;right:1038.2px;transform:scaleX(1.0050);">383</span>
<span class="tn r" style="top:1066px;right:941.12px;transform:scaleX(1.0050);">344</span>
<span class="tn r" style="top:1066px;right:843.16px;transform:scaleX(1.0050);">318</span>
<span class="tn r" style="top:1066px;right:745.52px;transform:scaleX(1.0050);">353</span>
<span class="tn r" style="top:1066px;right:647.9px;transform:scaleX(1.0050);">372</span>
<span class="tn r" style="top:1066px;right:550.53px;transform:scaleX(1.0050);">375</span>
<span class="tn r" style="top:1066px;right:452.97px;transform:scaleX(1.0050);">361</span>
<span class="tn r" style="top:1066px;right:355.28px;transform:scaleX(1.0050);">396</span>
<span class="tn r" style="top:1066px;right:257.6px;transform:scaleX(1.0050);">377</span>
<span class="tn r" style="top:1066px;right:160.15px;transform:scaleX(1.0050);">399</span>
<span class="tn r" style="top:1066px;right:27.38px;transform:scaleX(1.0050);">4,882</span>
</div>
</body>
</html>
